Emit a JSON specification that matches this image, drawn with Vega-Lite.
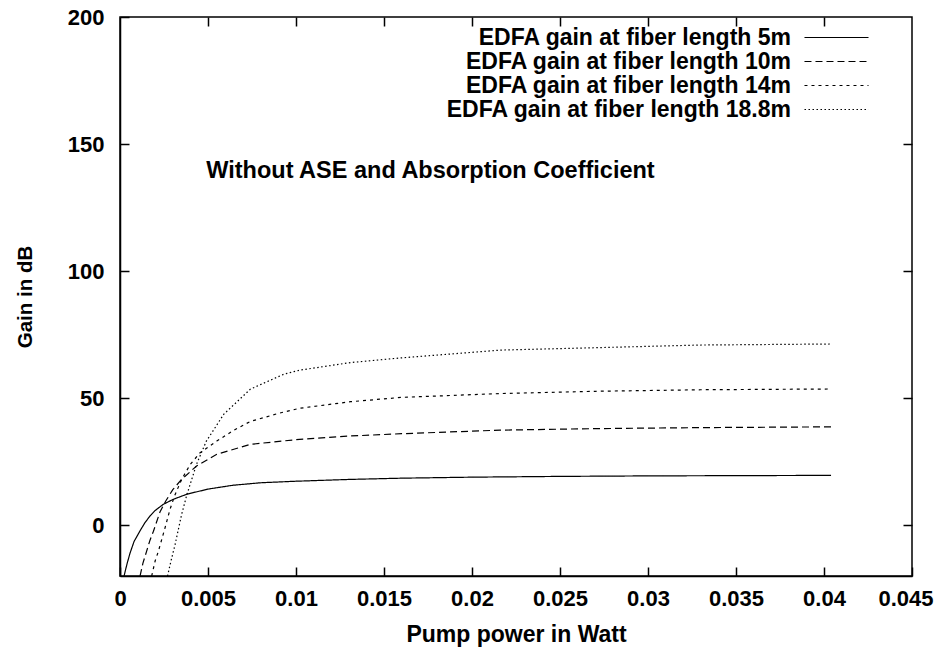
{
  "$schema": "https://vega.github.io/schema/vega-lite/v6.json",
  "width": 792,
  "height": 559,
  "autosize": {"type": "none"},
  "padding": {"left": 120, "top": 17, "right": 23, "bottom": 72},
  "background": "white",
  "config": {
    "font": "Liberation Sans",
    "view": {"stroke": "black", "strokeWidth": 1.5},
    "axis": {
      "labelFont": "Liberation Sans", "labelFontWeight": "bold", "labelFontSize": 22, "labelColor": "black",
      "titleFont": "Liberation Sans", "titleFontWeight": "bold", "titleColor": "black",
      "domainColor": "black", "domainWidth": 1.5, "tickColor": "black", "tickWidth": 1.5, "tickSize": -9,
      "grid": false
    },
    "legend": {
      "labelFont": "Liberation Sans", "labelFontWeight": "bold", "labelFontSize": 23, "labelColor": "black", "labelLimit": 0, "padding": 0
    }
  },
  "datasets": {
    "curves": [
      {"p": 0.00023, "g": -20, "s": "EDFA gain at fiber length 5m"},
      {"p": 0.0004, "g": -15.2, "s": "EDFA gain at fiber length 5m"},
      {"p": 0.00057, "g": -11, "s": "EDFA gain at fiber length 5m"},
      {"p": 0.0008, "g": -6.4, "s": "EDFA gain at fiber length 5m"},
      {"p": 0.00114, "g": -2.2, "s": "EDFA gain at fiber length 5m"},
      {"p": 0.0014, "g": 0.8, "s": "EDFA gain at fiber length 5m"},
      {"p": 0.0017, "g": 3.6, "s": "EDFA gain at fiber length 5m"},
      {"p": 0.002, "g": 5.8, "s": "EDFA gain at fiber length 5m"},
      {"p": 0.00246, "g": 8.2, "s": "EDFA gain at fiber length 5m"},
      {"p": 0.003, "g": 10.1, "s": "EDFA gain at fiber length 5m"},
      {"p": 0.0038, "g": 12.2, "s": "EDFA gain at fiber length 5m"},
      {"p": 0.005, "g": 14.2, "s": "EDFA gain at fiber length 5m"},
      {"p": 0.0064, "g": 15.7, "s": "EDFA gain at fiber length 5m"},
      {"p": 0.008, "g": 16.7, "s": "EDFA gain at fiber length 5m"},
      {"p": 0.01, "g": 17.3, "s": "EDFA gain at fiber length 5m"},
      {"p": 0.013, "g": 18.0, "s": "EDFA gain at fiber length 5m"},
      {"p": 0.016, "g": 18.5, "s": "EDFA gain at fiber length 5m"},
      {"p": 0.02, "g": 18.9, "s": "EDFA gain at fiber length 5m"},
      {"p": 0.025, "g": 19.2, "s": "EDFA gain at fiber length 5m"},
      {"p": 0.03, "g": 19.4, "s": "EDFA gain at fiber length 5m"},
      {"p": 0.035, "g": 19.5, "s": "EDFA gain at fiber length 5m"},
      {"p": 0.0404, "g": 19.6, "s": "EDFA gain at fiber length 5m"},

      {"p": 0.00114, "g": -20, "s": "EDFA gain at fiber length 10m"},
      {"p": 0.0013, "g": -15, "s": "EDFA gain at fiber length 10m"},
      {"p": 0.00151, "g": -10.3, "s": "EDFA gain at fiber length 10m"},
      {"p": 0.0017, "g": -6, "s": "EDFA gain at fiber length 10m"},
      {"p": 0.0019, "g": -2.4, "s": "EDFA gain at fiber length 10m"},
      {"p": 0.00227, "g": 5.2, "s": "EDFA gain at fiber length 10m"},
      {"p": 0.0026, "g": 9.5, "s": "EDFA gain at fiber length 10m"},
      {"p": 0.003, "g": 14, "s": "EDFA gain at fiber length 10m"},
      {"p": 0.0035, "g": 18, "s": "EDFA gain at fiber length 10m"},
      {"p": 0.00435, "g": 23.3, "s": "EDFA gain at fiber length 10m"},
      {"p": 0.0055, "g": 27.9, "s": "EDFA gain at fiber length 10m"},
      {"p": 0.0074, "g": 31.8, "s": "EDFA gain at fiber length 10m"},
      {"p": 0.0102, "g": 33.8, "s": "EDFA gain at fiber length 10m"},
      {"p": 0.0131, "g": 35.1, "s": "EDFA gain at fiber length 10m"},
      {"p": 0.016, "g": 36.0, "s": "EDFA gain at fiber length 10m"},
      {"p": 0.0216, "g": 37.4, "s": "EDFA gain at fiber length 10m"},
      {"p": 0.027, "g": 38.0, "s": "EDFA gain at fiber length 10m"},
      {"p": 0.033, "g": 38.4, "s": "EDFA gain at fiber length 10m"},
      {"p": 0.0404, "g": 38.7, "s": "EDFA gain at fiber length 10m"},

      {"p": 0.0018, "g": -20, "s": "EDFA gain at fiber length 14m"},
      {"p": 0.002, "g": -14, "s": "EDFA gain at fiber length 14m"},
      {"p": 0.00218, "g": -10.3, "s": "EDFA gain at fiber length 14m"},
      {"p": 0.00256, "g": -1, "s": "EDFA gain at fiber length 14m"},
      {"p": 0.00284, "g": 6.2, "s": "EDFA gain at fiber length 14m"},
      {"p": 0.0031, "g": 11.5, "s": "EDFA gain at fiber length 14m"},
      {"p": 0.0035, "g": 18, "s": "EDFA gain at fiber length 14m"},
      {"p": 0.004, "g": 24, "s": "EDFA gain at fiber length 14m"},
      {"p": 0.00455, "g": 28.5, "s": "EDFA gain at fiber length 14m"},
      {"p": 0.0055, "g": 33.1, "s": "EDFA gain at fiber length 14m"},
      {"p": 0.0065, "g": 37.5, "s": "EDFA gain at fiber length 14m"},
      {"p": 0.0074, "g": 40.8, "s": "EDFA gain at fiber length 14m"},
      {"p": 0.009, "g": 44, "s": "EDFA gain at fiber length 14m"},
      {"p": 0.0102, "g": 46, "s": "EDFA gain at fiber length 14m"},
      {"p": 0.0131, "g": 48.6, "s": "EDFA gain at fiber length 14m"},
      {"p": 0.016, "g": 50.3, "s": "EDFA gain at fiber length 14m"},
      {"p": 0.0216, "g": 51.8, "s": "EDFA gain at fiber length 14m"},
      {"p": 0.027, "g": 52.7, "s": "EDFA gain at fiber length 14m"},
      {"p": 0.033, "g": 53.3, "s": "EDFA gain at fiber length 14m"},
      {"p": 0.0404, "g": 53.6, "s": "EDFA gain at fiber length 14m"},

      {"p": 0.0027, "g": -20, "s": "EDFA gain at fiber length 18.8m"},
      {"p": 0.0029, "g": -14, "s": "EDFA gain at fiber length 18.8m"},
      {"p": 0.00313, "g": -7.6, "s": "EDFA gain at fiber length 18.8m"},
      {"p": 0.0035, "g": 4.2, "s": "EDFA gain at fiber length 18.8m"},
      {"p": 0.0038, "g": 12, "s": "EDFA gain at fiber length 18.8m"},
      {"p": 0.00435, "g": 24, "s": "EDFA gain at fiber length 18.8m"},
      {"p": 0.0049, "g": 33, "s": "EDFA gain at fiber length 18.8m"},
      {"p": 0.0059, "g": 43.7, "s": "EDFA gain at fiber length 18.8m"},
      {"p": 0.0074, "g": 53.5, "s": "EDFA gain at fiber length 18.8m"},
      {"p": 0.0093, "g": 59.4, "s": "EDFA gain at fiber length 18.8m"},
      {"p": 0.0102, "g": 61, "s": "EDFA gain at fiber length 18.8m"},
      {"p": 0.0131, "g": 64, "s": "EDFA gain at fiber length 18.8m"},
      {"p": 0.0159, "g": 65.8, "s": "EDFA gain at fiber length 18.8m"},
      {"p": 0.0216, "g": 68.9, "s": "EDFA gain at fiber length 18.8m"},
      {"p": 0.0273, "g": 69.9, "s": "EDFA gain at fiber length 18.8m"},
      {"p": 0.033, "g": 70.9, "s": "EDFA gain at fiber length 18.8m"},
      {"p": 0.0404, "g": 71.3, "s": "EDFA gain at fiber length 18.8m"}
    ],
    "note": [
      {"p": 0.0049, "g": 139.5, "label": "Without ASE and Absorption Coefficient"}
    ]
  },
  "resolve": {"axis": {"x": "independent", "y": "independent"}},
  "layer": [
    {
      "data": {"name": "curves"},
      "mark": {"type": "line", "strokeWidth": 1.2, "clip": true, "color": "black"},
      "encoding": {
        "x": {
          "field": "p", "type": "quantitative",
          "scale": {"domain": [0, 0.045], "nice": false, "zero": false},
          "axis": {
            "orient": "bottom", "values": [0, 0.005, 0.01, 0.015, 0.02, 0.025, 0.03, 0.035, 0.04, 0.045], "format": "~g",
            "title": "Pump power in Watt", "titleFontSize": 23, "labelPadding": 21, "titlePadding": 14, "labelFlush": false,
            "labelAlign": {"condition": {"test": "datum.value >= 0.0449", "value": "right"}, "value": "center"},
            "labelOffset": {"condition": {"test": "datum.value >= 0.0449", "value": 21}, "value": 0}
          }
        },
        "y": {
          "field": "g", "type": "quantitative",
          "scale": {"domain": [-20, 200], "nice": false, "zero": false},
          "axis": {"orient": "left", "values": [0, 50, 100, 150, 200], "title": "Gain in dB", "titleFontSize": 20.5, "labelPadding": 25, "titlePadding": 32, "labelFlush": false}
        },
        "strokeDash": {
          "field": "s", "type": "nominal",
          "sort": ["EDFA gain at fiber length 5m", "EDFA gain at fiber length 10m", "EDFA gain at fiber length 14m", "EDFA gain at fiber length 18.8m"],
          "scale": {"range": [[1, 0], [7, 4], [3, 4], [1.5, 2.5]]},
          "legend": {
            "title": null, "orient": "none", "legendX": 705, "legendY": 9,
            "symbolType": "M-5,0H5", "symbolSize": 164, "symbolStrokeWidth": 1.2, "symbolStrokeColor": "black",
            "labelAlign": "right", "labelOffset": -57, "rowPadding": 0,
            "labelFont": "Liberation Sans", "labelFontWeight": "bold", "labelFontSize": 23, "labelColor": "black"
          }
        }
      }
    },
    {
      "data": {"name": "note"},
      "mark": {"type": "text", "align": "left", "baseline": "middle", "font": "Liberation Sans", "fontWeight": "bold", "fontSize": 23.5, "color": "black"},
      "encoding": {
        "x": {"field": "p", "type": "quantitative", "axis": {"orient": "top", "values": [0.005, 0.01, 0.015, 0.02, 0.025, 0.03, 0.035, 0.04], "labels": false, "title": null, "domain": false, "ticks": true, "tickSize": -9, "tickColor": "black", "tickWidth": 1.5}},
        "y": {"field": "g", "type": "quantitative", "axis": {"orient": "right", "values": [0, 50, 100, 150], "labels": false, "title": null, "domain": false, "tickSize": -9}},
        "text": {"field": "label"}
      }
    }
  ]
}
